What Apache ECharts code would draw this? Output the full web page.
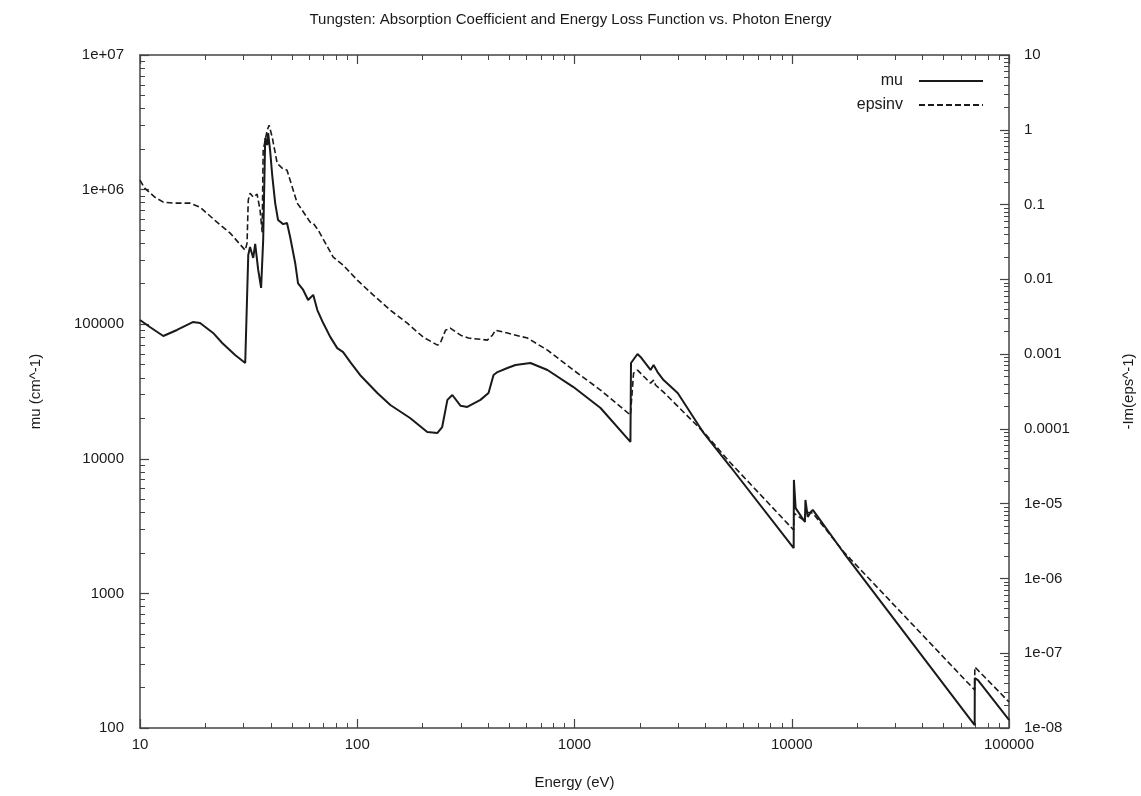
<!DOCTYPE html>
<html>
<head>
<meta charset="utf-8">
<title>Tungsten</title>
<script src="https://cdn.jsdelivr.net/npm/echarts@6/dist/echarts.min.js"></script>
<style>
  html, body { margin: 0; padding: 0; background: #fff; }
  #chart { width: 1141px; height: 796px; }
</style>
</head>
<body>
<div id="chart"></div>
<script>
// photon energy (eV) and absorption coefficient mu (cm^-1)
const muEnergy = [10, 11.1, 12.8, 14.8, 17.5, 18.9, 21.7, 23.9, 27.4, 30.5, 30.8, 31.5, 32.1, 33.2, 33.9, 35.0, 36.1, 36.9, 37.7, 38.5, 38.9, 39.7, 40.6, 41.9, 43.2, 45.6, 47.5, 49.1, 51.8, 53.4, 56.4, 59.4, 62.7, 65.5, 69.7, 75.2, 80.9, 86.1, 92.9, 103, 123.7, 142, 175, 210, 234, 246, 260, 274, 299, 321, 369, 402, 424, 442, 491, 535, 627, 751, 989, 1318, 1809, 1820, 1950, 2014, 2239, 2312, 2411, 2570, 2985, 3929, 5233, 10207, 10230, 10420, 11500, 11560, 11850, 12240, 12500, 13190, 17380, 69500, 69600, 71950, 100000];
const muValue = [107400, 95300, 81700, 90600, 103800, 102000, 86100, 72500, 59000, 51500, 51500, 326600, 374300, 310600, 394700, 252900, 185900, 422900, 2416000, 2143000, 2632000, 1967000, 1283000, 794000, 594000, 554000, 564000, 444800, 285000, 201000, 179600, 151400, 165200, 127400, 102000, 80200, 66400, 62000, 52300, 41960, 30850, 25100, 20100, 15810, 15560, 17220, 27400, 29780, 24770, 24270, 27400, 30850, 41960, 44100, 47300, 49800, 51500, 45700, 34130, 23840, 13340, 51500, 60100, 57100, 45700, 49800, 44100, 38470, 30850, 15560, 8690, 2173, 6970, 4303, 3388, 4943, 3698, 4030, 4171, 3698, 1995, 105, 235, 227, 115];

// photon energy (eV) and energy loss function -Im(1/eps)
const epsEnergy = [10, 10.5, 11.7, 12.8, 14.2, 17.0, 18.9, 22.6, 26.0, 30.5, 31.1, 31.5, 32.1, 33.2, 34.6, 35.7, 36.5, 36.9, 38.5, 39.3, 40.6, 42.8, 45.1, 47.5, 49.1, 52.9, 54.6, 60.7, 62.7, 66.1, 77.5, 86.1, 100, 118.6, 142, 170, 201, 234, 241, 255, 268, 299, 325, 397, 419, 433, 491, 607, 751, 989, 1318, 1809, 1870, 1950, 2239, 2312, 2360, 2570, 3929, 5233, 10207, 10230, 11500, 11560, 12500, 17380, 69500, 69600, 100000];
const epsValue = [0.212, 0.1656, 0.1256, 0.1077, 0.1045, 0.1045, 0.0923, 0.0582, 0.0415, 0.0245, 0.0305, 0.1146, 0.1419, 0.1256, 0.1377, 0.0841, 0.0428, 0.533, 0.989, 1.152, 0.796, 0.357, 0.307, 0.288, 0.212, 0.1045, 0.0923, 0.0582, 0.0563, 0.0455, 0.0198, 0.0155, 0.00976, 0.00615, 0.00387, 0.00259, 0.00169, 0.00132, 0.0014, 0.00209, 0.00223, 0.00179, 0.00164, 0.00154, 0.00179, 0.00209, 0.00191, 0.00164, 0.00113, 0.000611, 0.00033, 0.000153, 0.000557, 0.000611, 0.000409, 0.000449, 0.000386, 0.00031, 9.06e-5, 3.49e-5, 4.44e-6, 7.48e-6, 5.85e-6, 7.73e-6, 7.48e-6, 2.25e-6, 3.22e-8, 6.55e-8, 2.23e-8];

const FONT = 'Liberation Sans, Arial, Helvetica, sans-serif';
const AXIS_COLOR = '#444';
const TEXT_COLOR = '#1a1a1a';

const chart = echarts.init(document.getElementById('chart'));

// gnuplot style tick labels
function expLabel(v) {
    const e = Math.round(Math.log10(v));
    if (e >= 6) return '1e+' + (e < 10 ? '0' : '') + e;
    if (e <= -5) return '1e-' + (-e < 10 ? '0' : '') + (-e);
    if (e >= 0) return String(Math.pow(10, e));
    return '0.' + '0'.repeat(-e - 1) + '1';
}

const tickCommon = {
    axisLine: { show: true, onZero: false, lineStyle: { color: AXIS_COLOR, width: 1.5 } },
    axisTick: { show: true, inside: true, length: 9, lineStyle: { color: AXIS_COLOR, width: 1.2 } },
    minorTick: { show: true, splitNumber: 9, length: 5, lineStyle: { color: AXIS_COLOR, width: 1 } },
    splitLine: { show: false },
    minorSplitLine: { show: false }
};

const labelStyle = { color: TEXT_COLOR, fontFamily: FONT, fontSize: 15 };

chart.setOption({
    animation: false,
    backgroundColor: '#fff',
    title: {
        text: 'Tungsten: Absorption Coefficient and Energy Loss Function vs. Photon Energy',
        left: 'center',
        top: 7,
        textStyle: { color: TEXT_COLOR, fontFamily: FONT, fontSize: 15, fontWeight: 'normal' }
    },
    legend: {
        orient: 'vertical',
        right: 152,
        top: 68,
        align: 'right',
        itemWidth: 64,
        itemHeight: 14,
        itemGap: 8,
        itemStyle: { opacity: 0 },
        textStyle: { color: TEXT_COLOR, fontFamily: FONT, fontSize: 16, padding: [0, 11, 0, 0] },
        data: ['mu', 'epsinv']
    },
    grid: { left: 140, right: 132, top: 55, bottom: 68, containLabel: false, outerBoundsMode: 'none' },
    xAxis: [
        Object.assign({}, tickCommon, {
            type: 'log', logBase: 10, min: 10, max: 100000, position: 'bottom',
            name: 'Energy (eV)', nameLocation: 'middle', nameGap: 47,
            nameTextStyle: labelStyle,
            axisLabel: Object.assign({ margin: 9, formatter: v => String(Math.round(v)) }, labelStyle)
        }),
        Object.assign({}, tickCommon, {
            type: 'log', logBase: 10, min: 10, max: 100000, position: 'top',
            axisLabel: { show: false }
        })
    ],
    yAxis: [
        Object.assign({}, tickCommon, {
            type: 'log', logBase: 10, min: 100, max: 1e7, position: 'left',
            name: 'mu (cm^-1)', nameLocation: 'middle', nameGap: 97, nameRotate: 90,
            nameTextStyle: labelStyle,
            axisLabel: Object.assign({ margin: 16, formatter: expLabel }, labelStyle)
        }),
        Object.assign({}, tickCommon, {
            type: 'log', logBase: 10, min: 1e-8, max: 10, position: 'right',
            name: '-Im(eps^-1)', nameLocation: 'middle', nameGap: 112, nameRotate: 90,
            nameTextStyle: labelStyle,
            axisLabel: Object.assign({ margin: 15, formatter: expLabel }, labelStyle)
        })
    ],
    series: [
        {
            name: 'mu', type: 'line', xAxisIndex: 0, yAxisIndex: 0,
            data: muEnergy.map((e, i) => [e, muValue[i]]),
            showSymbol: false, symbol: 'none', clip: true,
            lineStyle: { color: '#1a1a1a', width: 2, type: 'solid' },
            itemStyle: { color: '#1a1a1a' }
        },
        {
            name: 'epsinv', type: 'line', xAxisIndex: 0, yAxisIndex: 1,
            data: epsEnergy.map((e, i) => [e, epsValue[i]]),
            showSymbol: false, symbol: 'none', clip: true,
            lineStyle: { color: '#1a1a1a', width: 1.6, type: [6, 3] },
            itemStyle: { color: '#1a1a1a' }
        }
    ]
});

window.addEventListener('resize', () => chart.resize());
</script>
</body>
</html>
